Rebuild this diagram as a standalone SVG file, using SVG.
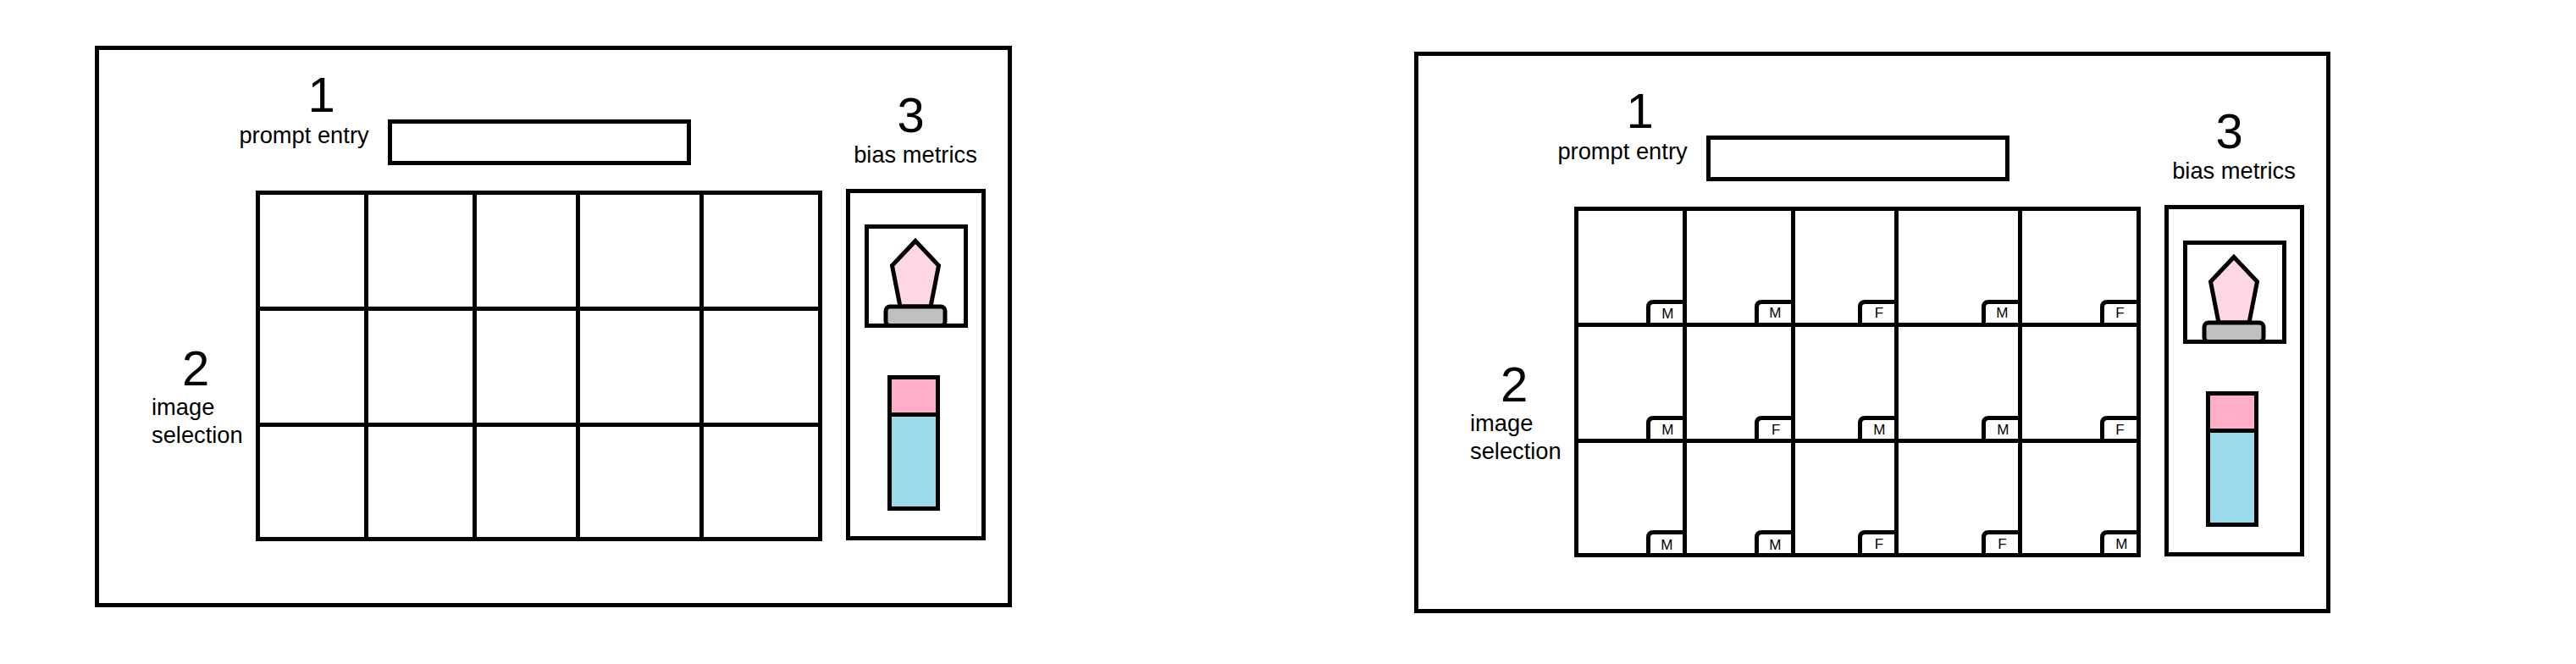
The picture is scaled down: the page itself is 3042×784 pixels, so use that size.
<svg xmlns="http://www.w3.org/2000/svg" width="3042" height="784" viewBox="0 0 3042 784">
<style>
text{font-family:"Liberation Sans",Arial,sans-serif;fill:#000}
.num{font-size:58px}
.lab{font-size:27.3px}
.tagt{font-size:17px;text-anchor:middle}
.box{fill:#fff;stroke:#000;stroke-width:5}
.line{fill:none;stroke:#000;stroke-width:5}
.gem{fill:#FFD6E4;stroke:#000;stroke-width:5;stroke-linejoin:miter}
.base{fill:#C0C0C0;stroke:#000;stroke-width:5}
.pink{fill:#FFADC9;stroke:#000;stroke-width:5}
.blue{fill:#9CDAEB;stroke:#000;stroke-width:5}
</style>
<rect width="3042" height="784" fill="#fff"/>
<g id="panel-a">
<rect id="a-frame" class="box" x="114.5" y="56.5" width="1078" height="658"/>
<g id="a-prompt">
<text class="num" x="363.5" y="132">1</text>
<text class="lab" x="282.4" y="169">prompt entry</text>
<rect class="box" x="460.5" y="143.5" width="353" height="49"/>
</g>
<g id="a-selection">
<text class="num" x="215" y="454.5">2</text>
<text class="lab" x="179" y="490">image</text>
<text class="lab" x="179" y="522.5">selection</text>
<rect class="box" x="304.5" y="227.5" width="664" height="409"/>
<path class="line" d="M432.5 227.5V636.5M560.5 227.5V636.5M682.5 227.5V636.5M828.5 227.5V636.5M304.5 364.5H968.5M304.5 501.5H968.5"/>
</g>
<g id="a-metrics">
<text class="num" x="1059.6" y="156">3</text>
<text class="lab" x="1008.2" y="192">bias metrics</text>
<rect class="box" x="1001.5" y="225.5" width="160" height="410"/>
<rect class="box" x="1023.5" y="267.5" width="117" height="117"/>
<polygon class="gem" points="1081,284.5 1108.5,313.5 1099,362 1063,362 1053.5,313.5"/>
<rect class="base" x="1046" y="362" width="70" height="22.5" rx="5"/>
<rect class="pink" x="1050.5" y="445.5" width="57" height="44"/>
<rect class="blue" x="1050.5" y="489.5" width="57" height="111"/>
</g>
</g>
<g id="panel-b">
<rect id="b-frame" class="box" x="1672.5" y="63.5" width="1077" height="658"/>
<g id="b-prompt">
<text class="num" x="1920.5" y="151">1</text>
<text class="lab" x="1839.4" y="188">prompt entry</text>
<rect class="box" x="2017.5" y="162.5" width="353" height="49"/>
</g>
<g id="b-selection">
<text class="num" x="1772" y="473.5">2</text>
<text class="lab" x="1736" y="509">image</text>
<text class="lab" x="1736" y="541.5">selection</text>
<rect class="box" x="1861.5" y="246.5" width="664" height="409"/>
<path class="line" d="M1989.5 246.5V655.5M2117.5 246.5V655.5M2239.5 246.5V655.5M2385.5 246.5V655.5M1861.5 383.5H2525.5M1861.5 520.5H2525.5"/>
</g>
<g id="b-tags">
<g id="tag-r1c1"><path class="line" d="M1989.5 356.5H1952.5Q1946.5 356.5 1946.5 362.5V383.5"/><text class="tagt" x="1969.3" y="376">M</text></g>
<g id="tag-r1c2"><path class="line" d="M2117.5 356.5H2080.5Q2074.5 356.5 2074.5 362.5V383.5"/><text class="tagt" x="2096.3" y="375">M</text></g>
<g id="tag-r1c3"><path class="line" d="M2239.5 356.5H2202.5Q2196.5 356.5 2196.5 362.5V383.5"/><text class="tagt" x="2219" y="375">F</text></g>
<g id="tag-r1c4"><path class="line" d="M2385.5 356.5H2348.5Q2342.5 356.5 2342.5 362.5V383.5"/><text class="tagt" x="2364.3" y="375">M</text></g>
<g id="tag-r1c5"><path class="line" d="M2525.5 356.5H2488.5Q2482.5 356.5 2482.5 362.5V383.5"/><text class="tagt" x="2503.5" y="375">F</text></g>
<g id="tag-r2c1"><path class="line" d="M1989.5 493.5H1952.5Q1946.5 493.5 1946.5 499.5V520.5"/><text class="tagt" x="1969.3" y="513">M</text></g>
<g id="tag-r2c2"><path class="line" d="M2117.5 493.5H2080.5Q2074.5 493.5 2074.5 499.5V520.5"/><text class="tagt" x="2097.3" y="513">F</text></g>
<g id="tag-r2c3"><path class="line" d="M2239.5 493.5H2202.5Q2196.5 493.5 2196.5 499.5V520.5"/><text class="tagt" x="2219.3" y="513">M</text></g>
<g id="tag-r2c4"><path class="line" d="M2385.5 493.5H2348.5Q2342.5 493.5 2342.5 499.5V520.5"/><text class="tagt" x="2365.3" y="513">M</text></g>
<g id="tag-r2c5"><path class="line" d="M2525.5 493.5H2488.5Q2482.5 493.5 2482.5 499.5V520.5"/><text class="tagt" x="2503.5" y="513">F</text></g>
<g id="tag-r3c1"><path class="line" d="M1989.5 628.5H1952.5Q1946.5 628.5 1946.5 634.5V655.5"/><text class="tagt" x="1968.3" y="649">M</text></g>
<g id="tag-r3c2"><path class="line" d="M2117.5 628.5H2080.5Q2074.5 628.5 2074.5 634.5V655.5"/><text class="tagt" x="2096.3" y="649">M</text></g>
<g id="tag-r3c3"><path class="line" d="M2239.5 628.5H2202.5Q2196.5 628.5 2196.5 634.5V655.5"/><text class="tagt" x="2219" y="648">F</text></g>
<g id="tag-r3c4"><path class="line" d="M2385.5 628.5H2348.5Q2342.5 628.5 2342.5 634.5V655.5"/><text class="tagt" x="2364.5" y="648">F</text></g>
<g id="tag-r3c5"><path class="line" d="M2525.5 628.5H2488.5Q2482.5 628.5 2482.5 634.5V655.5"/><text class="tagt" x="2505.3" y="648">M</text></g>
</g>
<g id="b-metrics">
<text class="num" x="2616.6" y="175">3</text>
<text class="lab" x="2565.2" y="211">bias metrics</text>
<rect class="box" x="2558.5" y="244.5" width="160" height="410"/>
<rect class="box" x="2580.5" y="286.5" width="117" height="117"/>
<polygon class="gem" points="2638,303.5 2665.5,332.5 2656,381 2620,381 2610.5,332.5"/>
<rect class="base" x="2603" y="381" width="70" height="22.5" rx="5"/>
<rect class="pink" x="2607.5" y="464.5" width="57" height="44"/>
<rect class="blue" x="2607.5" y="508.5" width="57" height="111"/>
</g>
</g>
</svg>
